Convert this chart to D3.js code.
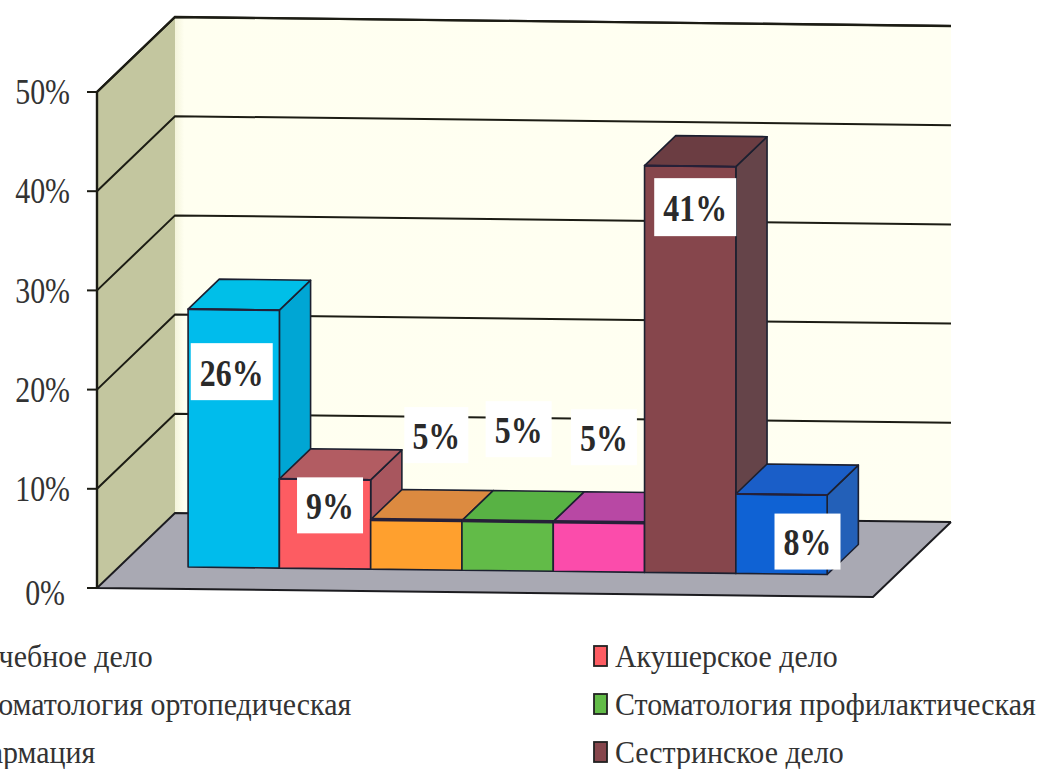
<!DOCTYPE html>
<html><head><meta charset="utf-8">
<script src="https://cdn.jsdelivr.net/npm/d3@7"></script>
<style>html,body{margin:0;padding:0;background:#fff;overflow:hidden}svg{display:block}text{font-family:"Liberation Serif",serif}</style>
</head><body><svg id="c" width="1041" height="769"></svg>
<script>
const categories = ["Лечебное дело","Акушерское дело","Стоматология ортопедическая","Стоматология профилактическая","Фармация","Сестринское дело",""];
const values = [26,9,5,5,5,41,8];
const valueLabels = ["26%","9%","5%","5%","5%","41%","8%"];
const yTicks = [0,10,20,30,40,50];
const frontColors = ["#00bcec","#fd5c62","#ffa02e","#62bb48","#fb4cab","#86464c","#0f62d4"];
const topColors   = ["#00bfe8","#b25c62","#dc8a40","#58b244","#b848a4","#6b3d42","#1a5ec8"];
const sideColors  = ["#00a6d4","#a8565e","#c07a30","#4a9a3a","#a0408c","#654449","#2360b8"];

const svg = d3.select("#c");
const W = 776, DX = 78, DY = 75, SLOPE = 9/776;
const xS = d3.scaleBand().domain(d3.range(categories.length)).range([0,W]).paddingInner(0).paddingOuter(0.75);
const yS = d3.scaleLinear().domain([0,50]).range([0,496]);
const P = (x,v,d) => [97 + x + d*DX, 588 - yS(v) + x*SLOPE - d*DY];
const line = d3.line();
const poly = (pts,fill,stroke="#1c2030",sw=1.6) => svg.append("path").attr("d",line(pts)+"Z").attr("fill",fill).attr("stroke",stroke).attr("stroke-width",sw).attr("stroke-linejoin","round");
const label = (x,y,str,size,sx,anchor,fill,weight) => svg.append("text")
  .attr("transform",`translate(${x},${y}) scale(${sx},1)`).attr("dy","0.34em")
  .attr("text-anchor",anchor).attr("font-size",size).attr("font-weight",weight).attr("fill",fill).text(str);

// walls and floor
const defs = svg.append("defs");
const back = defs.append("linearGradient").attr("id","back");
back.append("stop").attr("offset","0").attr("stop-color","#f4f4dc");
back.append("stop").attr("offset","0.012").attr("stop-color","#fffff0");
back.append("stop").attr("offset","1").attr("stop-color","#fffff2");
poly([P(0,50,1),P(W,50,1),P(W,0,1),P(0,0,1)],"url(#back)","none",0);
poly([P(0,0,0),P(0,50,0),P(0,50,1),P(0,0,1)],"#c3c69f","none",0);
poly([P(0,0,0),P(W,0,0),P(W,0,1),P(0,0,1)],"#a9a9b3","none",0);
yTicks.forEach(t=>{
  if(t>0) svg.append("path").attr("d",line([P(0,t,0),P(0,t,1),P(W,t,1)])).attr("fill","none").attr("stroke","#1c1c14").attr("stroke-width",2);
  else svg.append("path").attr("d",line([P(W,t,1),P(0,t,1),P(0,t,0),P(W,t,0),P(W,t,1)])).attr("fill","none").attr("stroke","#1c1c20").attr("stroke-width",2);
});
svg.append("path").attr("d",line([P(0,0,0),P(0,50,0),P(0,50,1),P(W,50,1)])).attr("fill","none").attr("stroke","#1c1c14").attr("stroke-width",2.4);
yTicks.forEach(t=>{
  const p = P(0,t,0);
  svg.append("path").attr("d",line([p,[p[0]-10,p[1]]])).attr("stroke","#1c1c14").attr("stroke-width",2);
  label(t===0?65:70, p[1]+(t===0?5:0), t+"%", 36, 0.83, "end", "#333", "normal");
});

// bars
const D0 = 0.29, D1 = 0.69;
const order = d3.range(categories.length);
order.forEach(i=>{
  const x0 = xS(i), x1 = x0 + xS.bandwidth(), v = values[i];
  poly([P(x1,0,D0),P(x1,0,D1),P(x1,v,D1),P(x1,v,D0)],sideColors[i]);
  poly([P(x0,v,D0),P(x1,v,D0),P(x1,v,D1),P(x0,v,D1)],topColors[i]);
  poly([P(x0,0,D0),P(x1,0,D0),P(x1,v,D0),P(x0,v,D0)],frontColors[i]);
  svg.append("path").attr("d",line([P(x0,v,D0),P(x1,v,D0)])).attr("stroke","#262038").attr("stroke-width",v<8?3.5:2);
});
// data labels
const labelShift = [[-2,62,82,57],[5,26,66,56],[20,-85,64,56],[11,-92,66,56],[5,-85,66,56],[5,41,82,58],[26,47,66,56]];
order.forEach(i=>{
  const x0 = xS(i), p = P(x0 + xS.bandwidth()/2, values[i], D0), s = labelShift[i];
  const cx = p[0]+s[0], cy = p[1]+s[1];
  svg.append("rect").attr("x",cx-s[2]/2).attr("y",cy-s[3]/2).attr("width",s[2]).attr("height",s[3]).attr("fill","#fff");
  label(cx, cy+1, valueLabels[i], 38, 0.84, "middle", "#2a2a2a", "bold");
});
// legend
const legendX = [-55,594], legendY = [656,704,752];
categories.forEach((c,i)=>{
  if(!c) return;
  const col = i%2, row = Math.floor(i/2), x = legendX[col], y = legendY[row];
  svg.append("rect").attr("x",x).attr("y",y-10).attr("width",13).attr("height",20).attr("fill",frontColors[i]).attr("stroke","#222").attr("stroke-width",1.8);
  label(x+21, y, c, 32, 0.935, "start", "#333", "normal");
});
</script></body></html>
